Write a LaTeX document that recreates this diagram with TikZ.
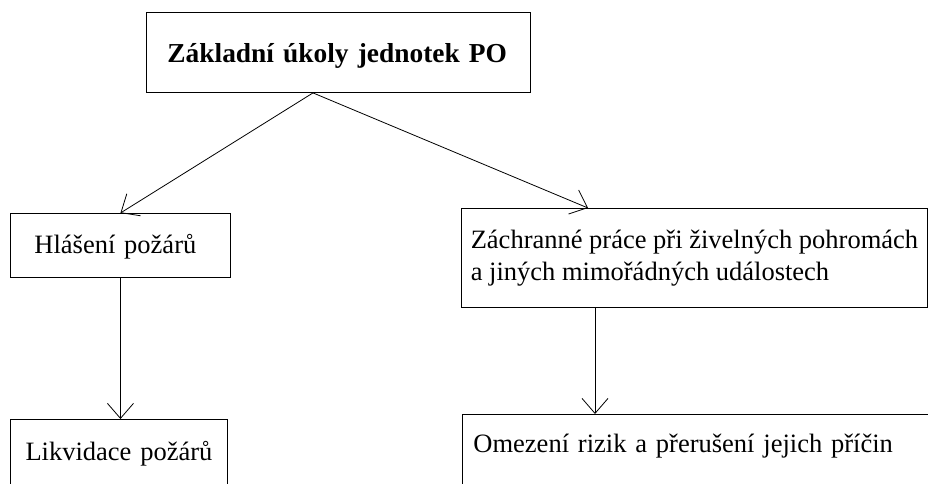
\documentclass[tikz,border=0pt]{standalone}
\usepackage{fontspec}
\setmainfont{Liberation Serif}
\usetikzlibrary{arrows.meta}

\begin{document}
\begin{tikzpicture}[x=1pt,y=-1pt,
  ukol/.style={draw,line width=0.9pt,anchor=north west,inner ysep=0pt,align=left,font=\fontsize{26.5}{32}\selectfont},
  sipka/.style={-{Straight Barb[length=15pt,width=26pt]},line width=0.8pt}]

\useasboundingbox (0,0) rectangle (928,483);

% boxes
\node[ukol,font=\fontsize{27.4}{32}\selectfont\bfseries,text width=342pt,inner xsep=21pt,text height=50pt,text depth=30pt] (zakladni) at (146,12) {Základní úkoly jednotek PO};
\node[ukol,text width=172pt,inner xsep=24pt,text height=40pt,text depth=24pt] (hlaseni) at (10,213) {Hlášení požárů};
\node[ukol,text width=217pt,inner xsep=0pt,align=center,text height=41pt,text depth=32pt] (likvidace) at (10,419) {Likvidace požárů};
\node[ukol,minimum width=466pt,minimum height=99pt] (zachrana) at (461,208) {Záchranné práce při živelných pohromách\\a jiných mimořádných událostech};
\node[ukol,text width=458pt,inner xsep=11pt,text height=38pt,text depth=40pt] (omezeni) at (462,414) {Omezení rizik a přerušení jejich příčin};

% arrows
\coordinate (rozdel) at ([xshift=167pt]zakladni.south west);
\coordinate (pad) at ([xshift=134pt]zachrana.south west);
\draw[sipka] (rozdel) -- (hlaseni.north);
\draw[sipka] (rozdel) -- ([xshift=127pt]zachrana.north west);
\draw[sipka] (hlaseni.south) -- (hlaseni.south |- likvidace.north);
\draw[sipka] (pad) -- (pad |- omezeni.north);
\end{tikzpicture}
\end{document}
